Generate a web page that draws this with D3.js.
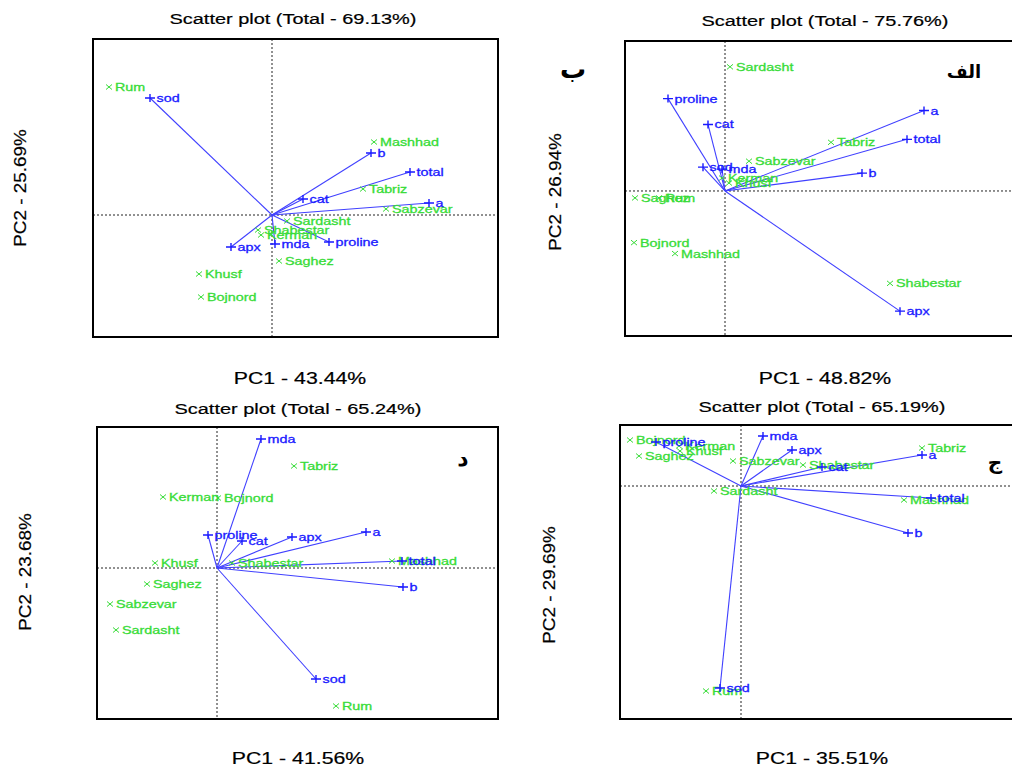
<!DOCTYPE html>
<html><head><meta charset="utf-8">
<script src="https://cdn.jsdelivr.net/npm/d3@7"></script>
<style>body{margin:0;background:#fff}svg{display:block}</style>
</head><body>
<svg id="c" width="1012" height="767"></svg>
<script>
// ---------- DATA ----------
const siteNames = ["Rum","Mashhad","Tabriz","Sabzevar","Sardasht","Shabestar","Kerman","Saghez","Khusf","Bojnord"];
const varNames  = ["sod","b","total","cat","a","proline","mda","apx"];

const titles  = ["Scatter plot (Total - 69.13%)","Scatter plot (Total - 75.76%)","Scatter plot (Total - 65.24%)","Scatter plot (Total - 65.19%)"];
const xTitles = ["PC1 - 43.44%","PC1 - 48.82%","PC1 - 41.56%","PC1 - 35.51%"];
const yTitles = ["PC2 - 25.69%","PC2 - 26.94%","PC2 - 23.68%","PC2 - 29.69%"];
const panelLetters = ["ب","الف","د","ج"];

// Panel 1 (top-left)
const p1SitePC1 = [-1.63, 1.02, 0.91, 1.14, 0.15,-0.14,-0.11, 0.07,-0.73,-0.71];
const p1SitePC2 = [ 1.28, 0.73, 0.26, 0.06,-0.06,-0.15,-0.20,-0.46,-0.59,-0.82];
const p1VarPC1  = [-1.22, 0.99, 1.38, 0.31, 1.57, 0.57, 0.03,-0.41];
const p1VarPC2  = [ 1.17, 0.62, 0.43, 0.16, 0.12,-0.27,-0.29,-0.32];
// Panel 2 (top-right)
const p2SitePC1 = [-0.66,-0.50, 1.06, 0.24, 0.05, 1.65,-0.03,-0.90, 0.04,-0.91];
const p2SitePC2 = [-0.07,-0.63, 0.49, 0.30, 1.25,-0.93, 0.13,-0.07, 0.08,-0.52];
const p2VarPC1  = [-0.22, 1.37, 1.82,-0.17, 1.99,-0.57,-0.03, 1.75];
const p2VarPC2  = [ 0.24, 0.18, 0.52, 0.67, 0.81, 0.93, 0.22,-1.21];
// Panel 3 (bottom-left)
const p3SitePC1 = [ 1.19, 1.75, 0.77,-1.07,-1.01, 0.15,-0.54,-0.70,-0.62, 0.01];
const p3SitePC2 = [-1.38, 0.07, 1.02,-0.36,-0.62, 0.05, 0.71,-0.16, 0.05, 0.70];
const p3VarPC1  = [ 0.99, 1.86, 1.85, 0.25, 1.49,-0.09, 0.44, 0.75];
const p3VarPC2  = [-1.11,-0.19, 0.07, 0.27, 0.36, 0.33, 1.29, 0.31];
// Panel 4 (bottom-right)
const p4SitePC1 = [-0.35, 1.63, 1.81,-0.08,-0.27, 0.62,-0.62,-1.02,-0.61,-1.11];
const p4SitePC2 = [-2.05,-0.14, 0.38, 0.25,-0.05, 0.21, 0.40, 0.30, 0.35, 0.46];
const p4VarPC1  = [-0.21, 1.67, 1.90, 0.81, 1.81,-0.85, 0.22, 0.51];
const p4VarPC2  = [-2.02,-0.47,-0.12, 0.19, 0.31, 0.44, 0.50, 0.36];

// ---------- LAYOUT ----------
const SX = 1.33; // horizontal stretch of the source picture
const FONT = "'Liberation Sans', Arial, sans-serif";
const BLUE = "#1a1aff", LINE = "#4040ff", GREEN = "#38dc38";

const panels = [
  {box:[93,498,39,337],  xd:[-1.79,2.26], yd:[-1.22,1.76], t:[293,24],  xl:[300,384], yl:[20,188],  let:[573,78,26],
   sx:p1SitePC1, sy:p1SitePC2, vx:p1VarPC1, vy:p1VarPC2},
  {box:[625,1030,41,336],xd:[-1.00,3.05], yd:[-1.46,1.51], t:[825,26],  xl:[825,384], yl:[555,192], let:[964,78,18],
   sx:p2SitePC1, sy:p2SitePC2, vx:p2VarPC1, vy:p2VarPC2},
  {box:[97,498,427,719], xd:[-1.20,2.81], yd:[-1.51,1.41], t:[298,414], xl:[298,764], yl:[25,572],  let:[463,466,22],
   sx:p3SitePC1, sy:p3SitePC2, vx:p3VarPC1, vy:p3VarPC2},
  {box:[620,1025,425,719],xd:[-1.21,2.84],yd:[-2.33,0.61], t:[822,412], xl:[822,764], yl:[549,585], let:[995,469,20],
   sx:p4SitePC1, sy:p4SitePC2, vx:p4VarPC1, vy:p4VarPC2}
];

const svg = d3.select("#c");
svg.append("rect").attr("width",1012).attr("height",767).attr("fill","#fff");

function stext(g, x, y, str, opts){
  const t = g.append("text")
    .attr("transform", `translate(${x},${y})` + (opts.rot ? " rotate(-90)" : "") + ` scale(${opts.sx||SX},1)`)
    .attr("font-family", FONT).attr("font-size", opts.size)
    .attr("fill", opts.fill || "#000")
    .attr("text-anchor", opts.anchor || "start")
    .text(str);
  if (opts.stroke) t.attr("stroke", opts.fill).attr("stroke-width", opts.stroke);
  return t;
}

panels.forEach((p, i) => {
  const [x0,x1,y0,y1] = p.box;
  const x = d3.scaleLinear().domain(p.xd).range([x0,x1]);
  const y = d3.scaleLinear().domain(p.yd).range([y1,y0]);
  const g = svg.append("g");

  // dotted zero axes
  g.append("line").attr("x1",x0).attr("x2",x1).attr("y1",y(0)).attr("y2",y(0))
    .attr("stroke","#222").attr("stroke-width",1).attr("stroke-dasharray","2,2");
  g.append("line").attr("x1",x(0)).attr("x2",x(0)).attr("y1",y0).attr("y2",y1)
    .attr("stroke","#222").attr("stroke-width",1).attr("stroke-dasharray","2,2");

  // variable vectors
  varNames.forEach((v, k) => {
    g.append("line").attr("x1",x(0)).attr("y1",y(0)).attr("x2",x(p.vx[k])).attr("y2",y(p.vy[k]))
      .attr("stroke",LINE).attr("stroke-width",1.1);
  });
  // sites
  siteNames.forEach((s, k) => {
    const cx = x(p.sx[k]), cy = y(p.sy[k]);
    g.append("path").attr("d",`M${cx-3},${cy-2.5}L${cx+3},${cy+2.5}M${cx-3},${cy+2.5}L${cx+3},${cy-2.5}`)
      .attr("stroke",GREEN).attr("stroke-width",1).attr("fill","none");
    stext(g, cx+6, cy+4, s, {size:10.8, fill:GREEN, stroke:0.3});
  });
  varNames.forEach((v, k) => {
    const cx = x(p.vx[k]), cy = y(p.vy[k]);
    g.append("path").attr("d",`M${cx-5},${cy}H${cx+5}M${cx},${cy-4}V${cy+4}`)
      .attr("stroke",BLUE).attr("stroke-width",1.4).attr("fill","none");
    stext(g, cx+6.5, cy+4, v, {size:10.8, fill:BLUE, stroke:0.3});
  });

  // frame
  g.append("rect").attr("x",x0).attr("y",y0).attr("width",x1-x0).attr("height",y1-y0)
    .attr("fill","none").attr("stroke","#000").attr("stroke-width",2);

  // titles
  stext(svg, p.t[0], p.t[1], titles[i], {size:15, anchor:"middle", fill:"#000", stroke:0.2});
  stext(svg, p.xl[0], p.xl[1], xTitles[i], {size:16, anchor:"middle", fill:"#000", stroke:0.2});
  stext(svg, p.yl[0]+6, p.yl[1], yTitles[i], {size:16, anchor:"middle", rot:true, sx:1.18, fill:"#000", stroke:0.2});
  svg.append("text").attr("x",p.let[0]).attr("y",p.let[1]).attr("text-anchor","middle")
    .attr("font-family","'DejaVu Sans', 'Noto Sans', sans-serif").attr("font-weight","bold")
    .attr("font-size",p.let[2]).attr("fill","#000").text(panelLetters[i]);
});
</script>
</body></html>
